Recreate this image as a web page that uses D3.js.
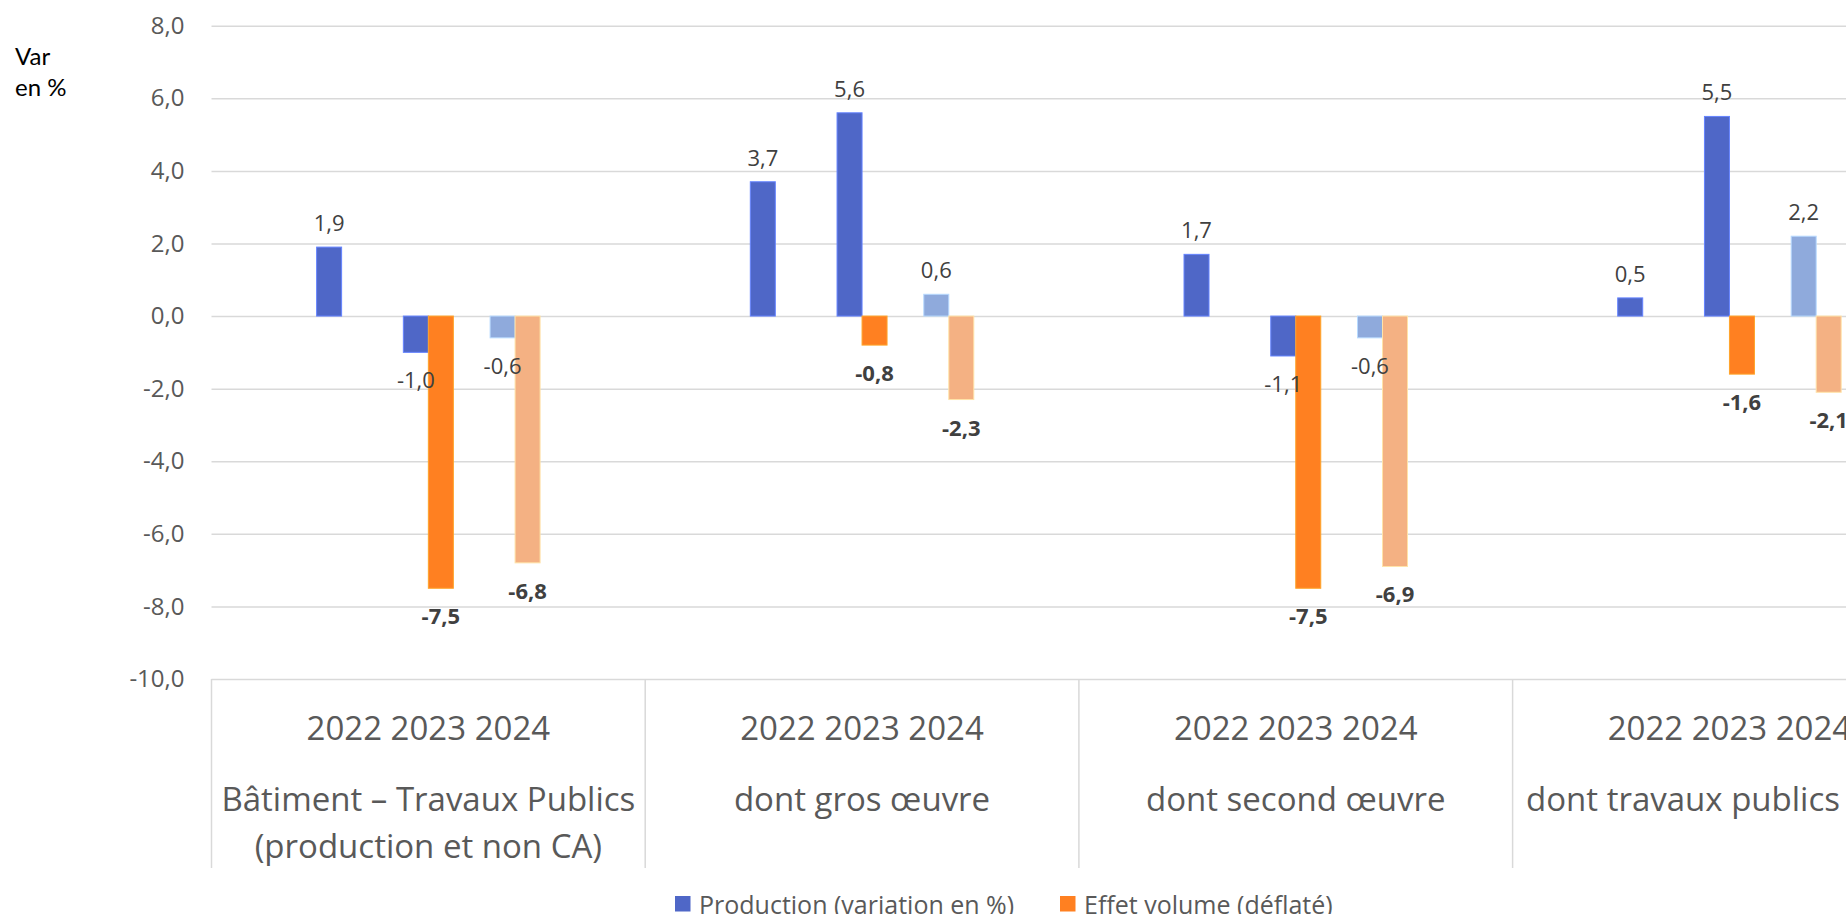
<!DOCTYPE html>
<html>
<head>
<meta charset="utf-8">
<script src="https://cdn.jsdelivr.net/npm/d3@7"></script>
<style>
  html, body { margin: 0; padding: 0; background: #fff; overflow: hidden; }
  svg { display: block; font-family: "Open Sans", "Noto Sans", sans-serif; }
</style>
</head>
<body>
<svg id="chart" width="1846" height="914"></svg>
<script>
// chart values
var categories = [
  ["Bâtiment – Travaux Publics", "(production et non CA)"],
  ["dont gros œuvre"],
  ["dont second œuvre"],
  ["dont travaux publics"]
];
var years = ["2022", "2023", "2024"];
var production = [[1.9, -1.0, -0.6], [3.7, 5.6, 0.6], [1.7, -1.1, -0.6], [0.5, 5.5, 2.2]];
var volume = [[null, -7.5, -6.8], [null, -0.8, -2.3], [null, -7.5, -6.9], [null, -1.6, -2.1]];
var yTicks = [-10, -8, -6, -4, -2, 0, 2, 4, 6, 8];
var seriesNames = ["Production (variation en %)", "Effet volume (déflaté)"];

var width = 1846,
    height = 914,
    left = 211.5,
    catWidth = 433.7,
    barWidth = 25;

var colors = {
  prod: "#4F67C7", prodLight: "#8FAADC",
  vol: "#FF8021", volLight: "#F4B183"
};

var fr = d3.formatLocale({decimal: ",", thousands: " ", grouping: [3], currency: ["", " €"], minus: "-"});
var fmt = fr.format(".1f");

var svg = d3.select("#chart");

var x0 = d3.scaleBand()
    .domain(d3.range(categories.length))
    .range([left, left + catWidth * categories.length]);

var x1 = d3.scaleBand()
    .domain(years)
    .range([catWidth * 0.2, catWidth * 0.8]);

var x2 = d3.scaleBand()
    .domain(["prod", "vol"])
    .range([x1.bandwidth() / 2 - barWidth, x1.bandwidth() / 2 + barWidth]);

var y = d3.scaleLinear().domain([-10, 8]).range([679, 25.7]);

// gridlines + tick labels
var yAxis = d3.axisLeft(y)
    .tickValues(yTicks)
    .tickSize(-(width - left))
    .tickFormat(fmt)
    .tickPadding(27);

var ga = svg.append("g")
    .attr("transform", "translate(" + left + ",0)")
    .call(yAxis);
ga.select(".domain").remove();
ga.selectAll(".tick line").attr("stroke", "#d9d9d9").attr("stroke-width", 1.5);
ga.selectAll(".tick text")
    .attr("fill", "#595959")
    .style("font-size", "24px")
    .style("font-family", "'Open Sans', sans-serif");

// category boxes below the plot
svg.append("g").selectAll("line")
    .data(d3.range(categories.length + 1))
    .enter().append("line")
    .attr("x1", function(i) { return left + i * catWidth; })
    .attr("x2", function(i) { return left + i * catWidth; })
    .attr("y1", y(-10))
    .attr("y2", 868)
    .attr("stroke", "#d9d9d9")
    .attr("stroke-width", 1.5);

var cat = svg.append("g").selectAll("g")
    .data(categories)
    .enter().append("g")
    .attr("transform", function(d, i) { return "translate(" + x0(i) + ",0)"; });

cat.append("text")
    .attr("x", catWidth / 2)
    .attr("y", 727)
    .attr("text-anchor", "middle")
    .attr("dominant-baseline", "central")
    .attr("fill", "#595959")
    .style("font-size", "33px")
    .text(years.join(" "));

cat.each(function(lines, i) {
  var g = d3.select(this);
  lines.forEach(function(t, k) {
    var txt = g.append("text")
      .attr("x", catWidth / 2)
      .attr("y", 798 + k * 47)
      .attr("text-anchor", "middle")
      .attr("dominant-baseline", "central")
      .attr("fill", "#595959")
      .style("font-size", "33px")
      .text(t);
    // keep the label inside the picture when the category runs off the edge
    var len = txt.node().getComputedTextLength();
    var maxRight = width - 6 - x0(i);
    if (catWidth / 2 + len / 2 > maxRight) txt.attr("x", maxRight - len / 2);
  });
});

// bars
var bars = [];
categories.forEach(function(c, i) {
  years.forEach(function(yr, j) {
    var light = yr === "2024";
    bars.push({cat: i, year: yr, key: "prod", value: production[i][j], color: light ? colors.prodLight : colors.prod});
    if (volume[i][j] != null)
      bars.push({cat: i, year: yr, key: "vol", value: volume[i][j], color: light ? colors.volLight : colors.vol});
  });
});

function barX(d) { return x0(d.cat) + x1(d.year) + x2(d.key); }

svg.append("g").selectAll("rect")
    .data(bars)
    .enter().append("rect")
    .attr("x", barX)
    .attr("y", function(d) { return y(Math.max(0, d.value)); })
    .attr("width", x2.bandwidth())
    .attr("height", function(d) { return Math.abs(y(d.value) - y(0)); })
    .attr("fill", function(d) { return d.color; })
    .attr("stroke", function(d) { return d3.color(d.color).brighter(0.7); })
    .attr("stroke-width", 1);

// value labels
svg.append("g").selectAll("text")
    .data(bars)
    .enter().append("text")
    .attr("x", function(d) { return barX(d) + x2.bandwidth() / 2; })
    .attr("y", function(d) { return d.value >= 0 ? y(d.value) - 25 : y(d.value) + 27; })
    .attr("text-anchor", "middle")
    .attr("dominant-baseline", "central")
    .attr("fill", "#404040")
    .style("font-size", "22px")
    .style("font-weight", function(d) { return d.key === "vol" ? "bold" : "normal"; })
    .text(function(d) { return fmt(d.value); });

// y label
svg.append("text")
    .attr("x", 15)
    .attr("y", 65)
    .attr("fill", "#000")
    .style("font-size", "24px")
    .style("font-family", "Lato, sans-serif")
    .selectAll("tspan")
    .data(["Var", "en %"])
    .enter().append("tspan")
    .attr("x", 15)
    .attr("dy", function(d, i) { return i ? 31 : 0; })
    .text(function(d) { return d; });

// legend
var legendX = [675, 1060];
var leg = svg.append("g").selectAll("g")
    .data(seriesNames)
    .enter().append("g")
    .attr("transform", function(d, i) { return "translate(" + legendX[i] + ",896)"; });

leg.append("rect")
    .attr("width", 15.5)
    .attr("height", 15.5)
    .attr("fill", function(d, i) { return i ? colors.vol : colors.prod; });

leg.append("text")
    .attr("x", 24)
    .attr("y", 8)
    .attr("dominant-baseline", "central")
    .attr("fill", "#595959")
    .style("font-size", "25px")
    .text(function(d) { return d; });
</script>
</body>
</html>
